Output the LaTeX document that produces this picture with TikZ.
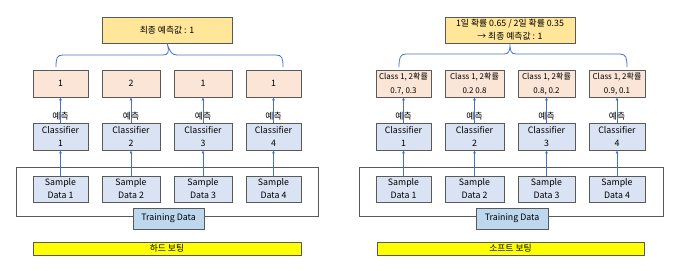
\documentclass[tikz,border=0pt]{standalone}
\usepackage{fontspec}
\setmainfont{Noto Sans CJK KR}
\usetikzlibrary{arrows.meta}
\definecolor{bordc}{HTML}{595959}
\definecolor{resc}{HTML}{FBE5D6}
\definecolor{clsc}{HTML}{DAE3F3}
\definecolor{trc}{HTML}{BDD7EE}
\definecolor{topc}{HTML}{FFE699}
\definecolor{barc}{HTML}{FFFF00}
\definecolor{linec}{HTML}{4472C4}
\tikzset{
  box/.style={draw=bordc, line width=0.9pt, minimum height=#1, inner sep=0pt, align=center, font=\fontsize{8.8}{13}\selectfont},
  resbox/.style={box=27pt, fill=resc},
  clsbox/.style={box=27pt, fill=clsc},
  smpbox/.style={box=26pt, fill=clsc},
  topbox/.style={box=26pt, fill=topc},
  trbox/.style={box=21pt, fill=trc},
  barbox/.style={box=13pt, fill=barc},
  outer/.style={draw=bordc, line width=0.9pt},
  conn/.style={draw=linec, line width=0.8pt, -{Latex[length=3pt,width=3pt]}},
  brace/.style={draw=linec, line width=0.8pt},
  lbl/.style={font=\fontsize{8.8}{10}\selectfont, inner sep=0pt},
}
\begin{document}
\begin{tikzpicture}[x=1pt,y=-1pt]
\useasboundingbox (0,0) rectangle (684,270);
% ---------- LEFT PANEL ----------
\draw[outer] (16,167) rectangle (318,216);
\node[topbox, minimum width=130pt] (lt) at (167,30) {최종 예측값 : 1};
\foreach \i/\cx/\w/\r in {1/60.5/55/1, 2/131/58/2, 3/203/58/1, 4/273.5/55/1}{
  \node[resbox, minimum width=\w pt] (lr\i) at (\cx,83.5) {\r};
  \node[clsbox, minimum width=\w pt] (lc\i) at (\cx,136.5) {Classifier\\\i};
  \node[smpbox, minimum width=\w pt] (ls\i) at (\cx,189) {Sample\\Data \i};
  \draw[conn] (ls\i.north) -- (lc\i.south);
  \draw[conn] (lc\i.north) -- (lr\i.south);
  \node[lbl] (lp\i) at (\cx,116) {예측};
}
\node[trbox, minimum width=71pt] (ltr) at (168.5,218.5) {Training Data};
\node[barbox, minimum width=268pt] (lbar) at (167,248.5) {하드 보팅};
\coordinate (lbl1) at (56,67);
\coordinate (lbr1) at (283,67);
\draw[brace] (lbl1) .. controls (56,58) and (57,55) .. (63,55) -- (163,55)
  .. controls (168,55) and (170,52) .. (lt.south)
  .. controls (170,52) and (172,55) .. (177,55) -- (276,55)
  .. controls (282,55) and (283,58) .. (lbr1);
% ---------- RIGHT PANEL ----------
\draw[outer] (359,167) rectangle (663,216);
\node[topbox, minimum width=130pt] (rt) at (510,30) {1일 확률 0.65 / 2일 확률 0.35\\→ 최종 예측값 : 1};
\foreach \i/\cx/\w/\r in {1/403.5/55/{0.7, 0.3}, 2/474.5/59/{0.2 0.8}, 3/546.5/57/{0.8, 0.2}, 4/617/56/{0.9, 0.1}}{
  \node[resbox, minimum width=\w pt, font=\fontsize{8}{14}\selectfont] (rr\i) at (\cx,83.5) {Class 1, 2확률\\\r};
  \node[clsbox, minimum width=\w pt] (rc\i) at (\cx,136.5) {Classifier\\\i};
  \node[smpbox, minimum width=\w pt] (rs\i) at (\cx,189) {Sample\\Data \i};
  \draw[conn] (rs\i.north) -- (rc\i.south);
  \draw[conn] (rc\i.north) -- (rr\i.south);
  \node[lbl] (rp\i) at (\cx,116) {예측};
}
\node[trbox, minimum width=72pt] (rtr) at (512,218.5) {Training Data};
\node[barbox, minimum width=267pt] (rbar) at (510.5,248.5) {소프트 보팅};
\coordinate (rbl1) at (399,67);
\coordinate (rbr1) at (627,67);
\draw[brace] (rbl1) .. controls (399,58) and (400,54) .. (406,54) -- (504,54)
  .. controls (509,54) and (510,51) .. (rt.south)
  .. controls (510,51) and (511,54) .. (516,54) -- (620,54)
  .. controls (626,54) and (627,58) .. (rbr1);
\end{tikzpicture}
\end{document}
